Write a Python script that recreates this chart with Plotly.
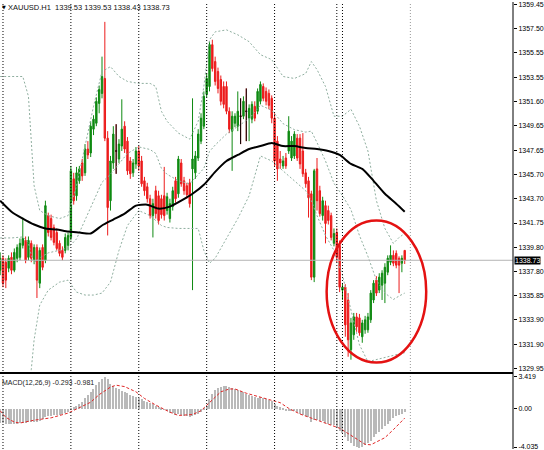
import plotly.graph_objects as go

# ---------------- data (XAUUSD H1) ----------------
open_ = [1337.92,1338.89,1338.57,1338.08,1338.97,1337.92,1338.89,1338.97,1339.94,1340.34,
         1338.97,1340.10,1338.73,1339.77,1336.87,1339.77,1338.73,1342.35,1342.11,1341.39,
         1340.98,1340.10,1339.53,1339.53,1339.94,1340.58,1345.33,1343.96,1345.17,1346.62,
         1345.82,1347.75,1347.43,1349.36,1349.84,1351.45,1352.26,1353.47,1348.63,1343.56,
         1346.62,1347.59,1346.94,1347.99,1349.60,1348.39,1346.78,1345.82,1346.54,1347.59,
         1346.78,1345.17,1344.69,1343.72,1342.35,1344.37,1343.96,1343.72,1343.96,1342.76,
         1342.11,1343.08,1345.17,1344.12,1346.62,1345.17,1344.77,1345.01,1346.14,1345.82,
         1347.02,1348.39,1349.60,1352.18,1352.82,1356.21,1354.84,1354.03,1353.39,1352.82,
         1352.82,1350.81,1349.20,1349.84,1349.60,1350.41,1350.41,1350.81,1350.25,1350.17,
         1351.21,1350.81,1351.62,1352.82,1352.42,1352.26,1351.86,1350.25,1348.39,1346.94,
         1346.38,1347.02,1347.59,1347.02,1347.19,1348.63,1348.63,1347.59,1345.82,1345.17,
         1344.12,1337.36,1346.14,1344.37,1342.35,1343.16,1342.76,1342.35,1340.10,1340.98,
         1339.94,1336.31,1336.55,1335.51,1331.48,1332.69,1334.14,1334.06,1332.53,1333.09,
         1333.09,1333.90,1335.51,1337.12,1336.31,1336.71,1336.87,1337.76,1338.57,1339.13,
         1339.29,1338.89,1338.49,1339.53]
high = [1339.37,1339.13,1338.89,1339.13,1339.37,1339.69,1340.02,1340.50,1342.19,1340.66,
        1340.66,1340.34,1340.02,1340.02,1339.77,1340.02,1343.56,1342.59,1342.43,1341.63,
        1341.31,1340.34,1339.86,1340.90,1340.98,1346.38,1345.82,1346.30,1346.38,1346.94,
        1348.15,1348.39,1350.00,1350.49,1351.94,1352.90,1355.24,1358.06,1349.20,1347.19,
        1349.60,1349.76,1348.55,1351.78,1350.00,1348.72,1347.10,1346.94,1347.91,1347.99,
        1347.19,1345.49,1345.01,1344.04,1343.72,1344.77,1344.37,1344.04,1346.30,1344.20,
        1343.72,1344.69,1345.49,1347.19,1346.94,1345.49,1345.01,1345.33,1351.86,1347.59,
        1349.36,1350.65,1352.42,1353.87,1356.45,1356.61,1355.24,1354.35,1353.71,1353.23,
        1353.23,1351.13,1350.81,1350.65,1352.42,1351.86,1352.02,1352.66,1351.37,1351.62,
        1351.62,1352.66,1353.23,1353.07,1352.74,1352.58,1352.10,1350.65,1348.80,1347.59,
        1347.19,1347.43,1350.41,1348.80,1349.20,1348.96,1348.96,1349.04,1346.14,1345.49,
        1344.37,1346.14,1347.02,1344.77,1343.88,1343.56,1343.16,1342.59,1341.31,1341.31,
        1340.34,1336.87,1336.79,1336.07,1334.06,1334.46,1334.46,1334.38,1333.90,1334.22,
        1334.46,1336.31,1337.12,1337.44,1337.68,1337.92,1338.49,1339.13,1339.94,1339.53,
        1339.53,1339.05,1339.13,1339.53]
low = [1337.52,1336.55,1336.47,1337.76,1337.60,1337.76,1338.57,1338.73,1339.69,1338.49,
       1338.73,1338.57,1338.41,1335.67,1336.47,1337.92,1338.49,1340.66,1340.34,1339.94,
       1339.53,1339.05,1338.73,1339.29,1339.53,1340.34,1343.24,1343.56,1344.93,1345.17,
       1345.57,1346.94,1347.10,1348.88,1349.60,1350.65,1351.86,1348.39,1340.74,1342.76,
       1346.14,1345.74,1346.62,1347.59,1347.43,1345.65,1345.33,1345.49,1346.14,1345.98,
       1344.69,1343.96,1343.40,1342.11,1340.58,1342.11,1341.63,1342.11,1341.95,1342.43,
       1341.79,1342.76,1343.40,1343.80,1344.69,1344.04,1343.72,1343.00,1336.31,1345.33,
       1346.78,1348.15,1349.36,1351.94,1352.42,1354.03,1352.90,1352.26,1351.29,1351.05,
       1350.57,1349.04,1345.98,1349.52,1349.20,1348.15,1350.17,1348.39,1348.39,1349.84,
       1350.00,1350.57,1351.37,1351.62,1351.29,1350.97,1349.84,1346.38,1345.17,1346.14,
       1346.14,1346.14,1347.35,1346.78,1346.94,1346.78,1346.14,1345.49,1344.61,1342.19,
       1337.12,1336.96,1342.76,1342.27,1341.95,1340.10,1341.63,1340.34,1339.86,1338.57,
       1336.15,1335.51,1332.53,1330.91,1330.67,1332.28,1332.93,1332.61,1332.04,1332.77,
       1332.85,1333.65,1335.26,1335.83,1336.07,1335.51,1335.26,1337.52,1338.33,1338.25,
       1338.08,1336.07,1337.76,1338.43]
close = [1338.89,1336.87,1337.12,1338.89,1337.92,1339.37,1339.77,1340.10,1340.50,1338.73,
         1340.34,1338.89,1339.77,1337.12,1339.53,1338.16,1343.16,1340.98,1340.58,1340.18,
         1339.69,1339.29,1338.97,1340.58,1340.74,1345.98,1343.56,1345.82,1346.14,1345.57,
         1347.75,1347.27,1349.60,1350.17,1351.62,1352.58,1353.63,1348.63,1343.00,1346.78,
         1348.96,1347.59,1348.15,1349.36,1347.75,1345.98,1345.74,1346.62,1347.59,1346.38,
         1344.93,1344.37,1343.72,1342.35,1343.32,1342.51,1341.95,1342.43,1342.35,1343.88,
         1343.32,1344.37,1343.72,1346.94,1344.93,1344.37,1344.04,1343.32,1346.94,1347.19,
         1348.96,1350.25,1352.02,1353.47,1356.21,1354.27,1353.23,1352.66,1351.62,1351.37,
         1350.81,1349.36,1350.41,1350.41,1350.81,1350.41,1351.62,1350.81,1351.05,1351.37,
         1350.25,1352.42,1352.98,1351.86,1351.62,1351.29,1350.25,1346.78,1346.14,1346.62,
         1346.78,1346.38,1349.20,1348.39,1348.96,1347.02,1346.54,1345.74,1344.93,1343.80,
         1337.36,1345.98,1343.56,1342.51,1343.56,1341.71,1341.95,1340.58,1340.90,1338.97,
         1336.55,1336.55,1333.49,1332.28,1333.65,1334.14,1333.33,1332.85,1333.65,1333.90,
         1334.14,1336.07,1336.87,1336.07,1337.36,1337.68,1338.16,1338.89,1339.13,1338.49,
         1338.33,1338.33,1338.89,1338.73]
bars = list(range(len(close)))

# moving average (black line), sampled along the bars
ma_bar = [0,4,8,12,16,20,24,28,32,36,40,44,48,52,56,60,64,68,72,76,80,84,88,92,96,100,
          104,108,112,116,120,124,128,132,136,140,143]
ma_val = [1343.56,1342.67,1342.11,1341.63,1341.31,1341.22,1341.06,1340.98,1340.90,1341.55,
          1342.03,1342.51,1343.16,1343.24,1342.92,1343.08,1343.56,1344.12,1344.85,1345.90,
          1346.78,1347.27,1347.75,1347.99,1348.23,1347.99,1347.99,1347.83,1347.75,1347.59,
          1347.27,1346.54,1346.14,1345.17,1344.12,1343.32,1342.67]

# Bollinger bands (dotted)
bb_bar = [0,4,8,10,11,12,14,17,21,24,27,30,33,36,39,42,45,49,53,55,57,59,63,67,70,72,74,76,
          80,84,88,92,96,100,104,108,110,112,115,118,121,124,127,130,133,136,139,141,143]
bb_upper = [1353.63,1353.63,1353.63,1352.02,1348.39,1344.77,1342.76,1342.35,1342.11,1342.35,
            1344.77,1347.99,1351.21,1354.03,1354.43,1353.63,1353.23,1353.07,1353.07,1352.82,
            1350.81,1350.00,1349.04,1348.55,1350.00,1352.82,1356.61,1357.25,1357.41,1357.01,
            1356.45,1355.40,1355.00,1353.63,1353.47,1353.87,1354.84,1354.19,1352.82,1350.41,
            1350.41,1350.97,1349.60,1347.59,1343.56,1341.31,1340.10,1340.58,1340.90]
bb_middle = [1340.54,1340.54,1340.62,1340.14,1339.13,1338.53,1338.93,1339.33,1339.54,1339.74,
             1340.46,1341.95,1343.56,1345.05,1345.70,1346.58,1347.39,1347.92,1347.71,1347.39,
             1346.18,1345.70,1345.18,1344.93,1345.66,1346.18,1347.55,1348.07,1348.96,1349.56,
             1350.21,1351.30,1350.89,1349.81,1349.32,1349.12,1349.20,1348.27,1346.78,1344.97,
             1343.97,1342.84,1340.74,1339.05,1337.12,1336.07,1335.55,1335.83,1336.07]
bb_lower = [1327.45,1327.45,1327.61,1328.26,1329.87,1332.28,1335.10,1336.31,1336.96,1337.12,
            1336.15,1335.91,1335.91,1336.07,1336.96,1339.53,1341.55,1342.76,1342.35,1341.95,
            1341.55,1341.39,1341.31,1341.31,1341.31,1339.53,1338.49,1338.89,1340.50,1342.11,
            1343.96,1347.19,1346.78,1345.98,1345.17,1344.37,1343.56,1342.35,1340.74,1339.53,
            1337.52,1334.70,1331.88,1330.51,1330.67,1330.83,1331.00,1331.08,1331.24]

# MACD(12,26,9): main (histogram) per bar, signal line samples
macd_main = [-1.40,-1.45,-1.50,-1.55,-1.55,-1.55,-1.50,-1.45,-1.40,-1.40,-1.35,-1.35,-1.35,
             -1.35,-1.25,-1.05,-0.85,-0.75,-0.70,-0.65,-0.60,-0.55,-0.50,-0.40,-0.30,
             0.10,0.20,0.35,0.55,0.75,1.20,1.50,1.80,2.20,2.60,2.90,3.20,3.42,3.25,2.70,
             2.50,2.30,2.10,1.95,1.80,1.70,1.55,1.40,1.30,1.20,
             1.05,0.90,0.80,0.70,0.55,0.40,0.25,0.10,-0.05,-0.20,-0.35,-0.40,-0.55,-0.50,
             -0.60,-0.70,-0.75,-0.80,-0.70,-0.60,-0.45,-0.30,0.05,
             0.40,1.10,1.60,2.00,2.30,2.40,2.45,2.45,2.35,2.25,2.20,2.00,1.90,1.80,1.65,
             1.55,1.45,1.30,1.25,1.30,1.20,1.10,1.00,0.90,0.60,0.40,0.20,0.05,
             -0.10,-0.10,-0.15,-0.20,-0.30,-0.45,-0.60,-0.70,-0.85,-1.30,-1.10,-1.10,-1.20,
             -1.25,-1.40,-1.50,-1.65,-1.70,-1.90,-2.30,-2.50,-2.90,-3.30,
             -3.60,-3.85,-4.00,-4.035,-3.95,-3.80,-3.60,-3.30,-2.95,-2.60,-2.35,-2.10,-1.80,
             -1.50,-1.20,-0.95,-0.75,-0.60,-0.45,-0.293]
sig_bar = [0,2,5,7,12,18,24,27,32,35,39,41,44,48,51,55,60,63,68,71,75,78,81,83,87,92,95,99,
           102,106,113,120,124,129,131,136,139,142,143]
sig_val = [-0.2,-0.9,-1.4,-1.5,-1.2,-0.95,-0.45,0.0,0.7,1.5,2.3,2.5,2.35,1.8,1.1,0.4,-0.35,
           -0.7,-0.6,-0.2,0.9,1.8,2.1,2.1,1.65,1.2,1.0,0.65,0.05,-0.55,-1.3,-2.05,-2.8,-3.75,
           -3.8,-3.05,-2.2,-1.3,-0.981]

price_ticks = [1359.45,1357.50,1355.55,1353.55,1351.60,1349.65,1347.65,1345.70,1343.70,
               1341.75,1339.80,1337.80,1335.85,1333.90,1331.90,1329.95]
macd_ticks = [3.419, 0.0, -4.035]
macd_tick_text = ["3.419", "0.00", "-4.035"]
bid = 1338.73
separators = [1, 25, 49, 73, 97, 119, 121]
grey_separator = 145
ellipse_bars = (115.4, 150.6)
ellipse_prices = (1330.44, 1341.95)

# ---------------- styling ----------------
GREEN = "#0f8a12"
RED = "#ec1c1c"
FONT = "Liberation Sans"
W, H = 544, 450
main_bottom_px, macd_top_px = 372, 375

fig = go.Figure()

fig.add_trace(go.Candlestick(
    x=bars, open=open_, high=high, low=low, close=close,
    increasing=dict(line=dict(color=GREEN, width=1), fillcolor=GREEN),
    decreasing=dict(line=dict(color=RED, width=1), fillcolor=RED),
    xaxis="x", yaxis="y", hoverinfo="skip"))

# doji bars drawn in black
dx, dy = [], []
for i in bars:
    if open_[i] == close[i]:
        dx += [i, i, None, i - 0.35, i + 0.35, None]
        dy += [high[i], low[i], None, close[i], close[i], None]
fig.add_trace(go.Scatter(x=dx, y=dy, mode="lines", line=dict(color="black", width=1),
                         xaxis="x", yaxis="y", hoverinfo="skip"))

bb_style = dict(color="#8fae9f", width=1, dash="2px,2px")
for vals in (bb_upper, bb_middle, bb_lower):
    fig.add_trace(go.Scatter(x=bb_bar, y=vals, mode="lines", line=bb_style,
                             xaxis="x", yaxis="y", hoverinfo="skip"))

fig.add_trace(go.Scatter(x=ma_bar, y=ma_val, mode="lines",
                         line=dict(color="black", width=2, shape="spline", smoothing=0.6),
                         xaxis="x", yaxis="y", hoverinfo="skip"))

fig.add_trace(go.Bar(x=bars, y=macd_main, width=0.4, marker=dict(color="#b9b9b9", line=dict(width=0)),
                     xaxis="x2", yaxis="y2", hoverinfo="skip"))
fig.add_trace(go.Scatter(x=sig_bar, y=sig_val, mode="lines",
                         line=dict(color="#e02828", width=1, dash="3px,2px"),
                         xaxis="x2", yaxis="y2", hoverinfo="skip"))

xr = [-0.056, 181.28]
main_dom = [(H - main_bottom_px) / H, 1]
macd_dom = [0, (H - macd_top_px) / H]

shapes = []
for s in separators:
    shapes.append(dict(type="line", xref="x", yref="paper", x0=s, x1=s, y0=0, y1=1,
                       line=dict(color="black", width=1, dash="1px,2px")))
shapes.append(dict(type="line", xref="x", yref="paper", x0=grey_separator, x1=grey_separator,
                   y0=0, y1=1, line=dict(color="#9a9a9a", width=1, dash="1px,2px")))
shapes.append(dict(type="line", xref="paper", yref="y", x0=0, x1=1, y0=bid, y1=bid,
                   line=dict(color="#b4b4b4", width=1)))
shapes.append(dict(type="line", xref="paper", yref="paper", x0=0, x1=1,
                   y0=(H - 373.5) / H, y1=(H - 373.5) / H, line=dict(color="black", width=2)))
shapes.append(dict(type="line", xref="paper", yref="paper", x0=1, x1=1, y0=0, y1=1,
                   line=dict(color="black", width=1)))
shapes.append(dict(type="circle", xref="x", yref="y",
                   x0=ellipse_bars[0], x1=ellipse_bars[1],
                   y0=ellipse_prices[0], y1=ellipse_prices[1],
                   line=dict(color="#e41212", width=2.5)))

annotations = [
    dict(xref="paper", yref="paper", x=0, y=1, xanchor="left", yanchor="top", xshift=6, yshift=1,
         text="XAUUSD.H1  1339.53 1339.53 1338.43 1338.73", showarrow=False,
         font=dict(family=FONT, size=7.5, color="#111111")),
    dict(xref="paper", yref="paper", x=0, y=1, xanchor="left", yanchor="top", xshift=0, yshift=0,
         text="▼", showarrow=False, font=dict(family="DejaVu Sans", size=5, color="black")),
    dict(xref="paper", yref="paper", x=0, y=macd_dom[1], xanchor="left", yanchor="top",
         xshift=0, yshift=-2, text="MACD(12,26,9) -0.293 -0.981", showarrow=False,
         font=dict(family=FONT, size=7, color="#222222")),
    dict(xref="paper", yref="y", x=1, y=bid, xanchor="left", yanchor="middle", xshift=1,
         text=f"{bid:.2f}", showarrow=False, bgcolor="black", borderpad=0,
         font=dict(family=FONT, size=7, color="white")),
]

fig.update_layout(
    width=W, height=H, autosize=False,
    margin=dict(l=0, r=29, t=0, b=0, pad=0),
    paper_bgcolor="white", plot_bgcolor="white",
    showlegend=False, hovermode=False, bargap=0,
    xaxis=dict(domain=[0, 1], range=xr, anchor="y", visible=False, showgrid=False,
               rangeslider=dict(visible=False), fixedrange=True),
    xaxis2=dict(domain=[0, 1], range=xr, anchor="y2", visible=False, showgrid=False,
                matches="x", fixedrange=True),
    yaxis=dict(domain=main_dom, range=[1329.71, 1359.67], side="right", anchor="x",
               showgrid=False, zeroline=False, showline=False, ticklabeloverflow="allow",
               tickmode="array", tickvals=price_ticks, ticktext=[f"{v:.2f}" for v in price_ticks],
               ticks="outside", ticklen=3, tickwidth=1, tickcolor="black",
               tickfont=dict(family=FONT, size=7, color="black")),
    yaxis2=dict(domain=macd_dom, range=[-4.245, 3.63], side="right", anchor="x2",
                showgrid=False, zeroline=False, showline=False, ticklabeloverflow="allow",
                tickmode="array", tickvals=macd_ticks, ticktext=macd_tick_text,
                ticks="outside", ticklen=3, tickwidth=1, tickcolor="black",
                tickfont=dict(family=FONT, size=7, color="black")),
    shapes=shapes, annotations=annotations,
)

fig.write_html("out.html", config={"displayModeBar": False})

# remove the default page margin so the 544x450 figure fills the window exactly
with open("out.html", "r", encoding="utf-8") as f:
    page = f.read()
page = page.replace("<head>", "<head><style>html,body{margin:0;padding:0;overflow:hidden;}</style>", 1)
with open("out.html", "w", encoding="utf-8") as f:
    f.write(page)
